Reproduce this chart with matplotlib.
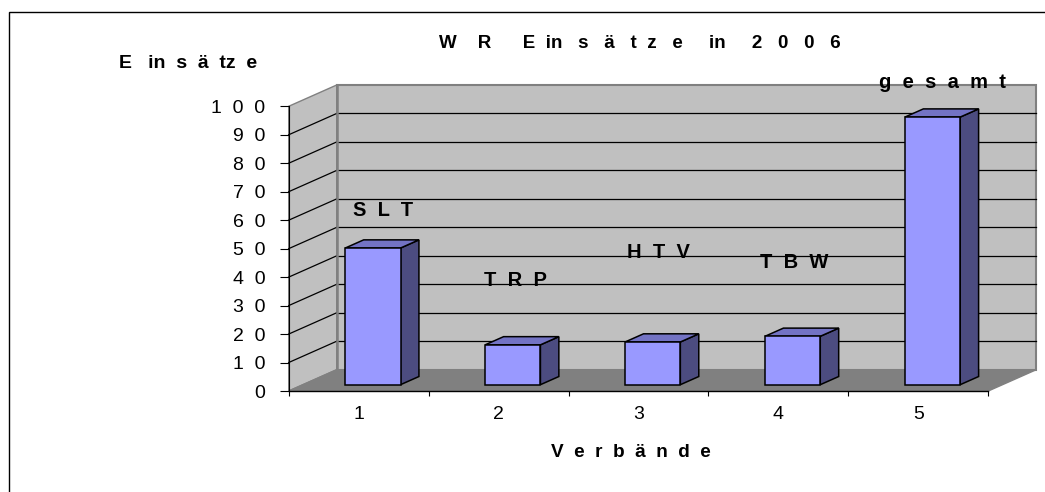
import matplotlib
matplotlib.use("Agg")
import matplotlib.pyplot as plt
from matplotlib.patches import Polygon, Rectangle

# ---------------- data ----------------
categories = ["1", "2", "3", "4", "5"]
group_names = ["S  L  T", "T  R  P", "H  T  V", "T  B  W", "g  e  s  a  m  t"]
values = [48, 14, 15, 17, 94]
y_ticks = [0, 10, 20, 30, 40, 50, 60, 70, 80, 90, 100]
y_tick_labels = ["0", "1  0", "2  0", "3  0", "4  0", "5  0", "6  0", "7  0", "8  0", "9  0", "1  0  0"]
title_text = "W    R      E  in   s   ä   t  z   e     in     2   0   0   6"
y_label_text = "E   in  s  ä  tz  e"
x_label_text = "V  e  r  b  ä  n  d  e"

# ---------------- layout ----------------
W_PX, H_PX = 1045, 492
plt.rcParams["font.family"] = ["Liberation Sans", "DejaVu Sans"]

fig = plt.figure(figsize=(W_PX / 100, H_PX / 100), dpi=100)
fig.patch.set_facecolor("white")


def fx(px):
    return px / W_PX


def fy(py):
    return 1 - py / H_PX


L, R, T, B = 288.7, 988.3, 106.3, 391.0
ax = fig.add_axes([fx(L), fy(B), fx(R) - fx(L), fy(T) - fy(B)])
ax.set_xlim(0.5, 5.5)
ax.set_ylim(0, 100)
ax.patch.set_visible(False)

# oblique depth vector (data units)
DX = 48.0 / ((R - L) / 5)
DY = 21.3 / ((B - T) / 100)

x0, x1 = 0.5, 5.5
wall = "#C0C0C0"
edge_grey = "#808080"

# back wall
ax.add_patch(Polygon([(x0 + DX, DY), (x1 + DX, DY), (x1 + DX, 100 + DY), (x0 + DX, 100 + DY)],
                     closed=True, facecolor=wall, edgecolor=edge_grey, lw=1.5,
                     clip_on=False, zorder=0.2))
# side wall
ax.add_patch(Polygon([(x0, 0), (x0 + DX, DY), (x0 + DX, 100 + DY), (x0, 100)],
                     closed=True, facecolor=wall, edgecolor=edge_grey, lw=1.0,
                     clip_on=False, zorder=0.3))
# floor
ax.add_patch(Polygon([(x0, 0), (x1, 0), (x1 + DX, DY), (x0 + DX, DY)],
                     closed=True, facecolor="#808080", edgecolor=edge_grey, lw=1.0,
                     clip_on=False, zorder=0.4))

# gridlines on back and side walls
for v in y_ticks[1:-1]:
    ax.plot([x0 + DX, x1 + DX], [v + DY, v + DY], color="black", lw=0.9,
            clip_on=False, zorder=0.5)
    ax.plot([x0, x0 + DX], [v, v + DY], color="black", lw=0.9,
            clip_on=False, zorder=0.5)

# back wall left edge (thicker grey)
ax.plot([x0 + DX, x0 + DX], [DY, 100 + DY], color=edge_grey, lw=1.8,
        clip_on=False, zorder=0.55)

# bars
d0, d1 = 0.296, 0.68
dd = d1 - d0
bw = 0.395
xs = [i + 1 for i in range(len(values))]
front_x = [x + d0 * DX for x in xs]
base = d0 * DY
ax.bar(front_x, values, width=bw, bottom=base, color="#9999FF",
       edgecolor="black", linewidth=1.1, zorder=3)
for xc, v in zip(front_x, values):
    xl, xr = xc - bw / 2, xc + bw / 2
    top = base + v
    ax.add_patch(Polygon([(xr, base), (xr + dd * DX, base + dd * DY),
                          (xr + dd * DX, top + dd * DY), (xr, top)],
                         closed=True, facecolor="#4C4C80", edgecolor="black",
                         lw=1.1, zorder=2.9, clip_on=False))
    ax.add_patch(Polygon([(xl, top), (xr, top), (xr + dd * DX, top + dd * DY),
                          (xl + dd * DX, top + dd * DY)],
                         closed=True, facecolor="#7373C4", edgecolor="black",
                         lw=1.1, zorder=2.9, clip_on=False))

# category name labels (positions in data coords)
label_pos = [(1.174, 61.5), (2.124, 37.0), (3.143, 46.6), (4.115, 43.1), (5.169, 106.4)]
for name, (lx, ly) in zip(group_names, label_pos):
    ax.text(lx, ly, name, ha="center", va="baseline", fontsize=14.5,
            fontweight="bold", color="black", zorder=4, clip_on=False)

# spines / ticks
for s in ["top", "right"]:
    ax.spines[s].set_visible(False)
ax.spines["left"].set_color("black")
ax.spines["left"].set_linewidth(0.8)
ax.spines["bottom"].set_color("black")
ax.spines["bottom"].set_linewidth(1.0)
ax.spines["left"].set_zorder(0.6)

ax.set_yticks(y_ticks)
ax.set_yticklabels(y_tick_labels, fontsize=14)
ax.tick_params(axis="y", direction="out", length=6.8, width=0.8, pad=10, colors="black")

ax.set_xticks(xs)
ax.set_xticklabels(categories, fontsize=14)
ax.set_xticks([0.5, 1.5, 2.5, 3.5, 4.5, 5.5], minor=True)
ax.tick_params(axis="x", which="major", length=0, pad=11)
ax.tick_params(axis="x", which="minor", direction="out", length=3.4, width=0.8)

# titles
fig.text(fx(640), fy(48.3), title_text, ha="center", va="baseline",
         fontsize=13.5, fontweight="bold")
fig.text(fx(119), fy(68.3), y_label_text, ha="left", va="baseline",
         fontsize=14, fontweight="bold")
fig.text(fx(551), fy(457), x_label_text, ha="left", va="baseline",
         fontsize=13.7, fontweight="bold")

# outer border
fig.patches.append(Rectangle((fx(8.5), -0.05), 1.1, fy(12) + 0.05,
                             transform=fig.transFigure, fill=False,
                             edgecolor="black", lw=1.0))

fig.savefig("out.png", dpi=100)
